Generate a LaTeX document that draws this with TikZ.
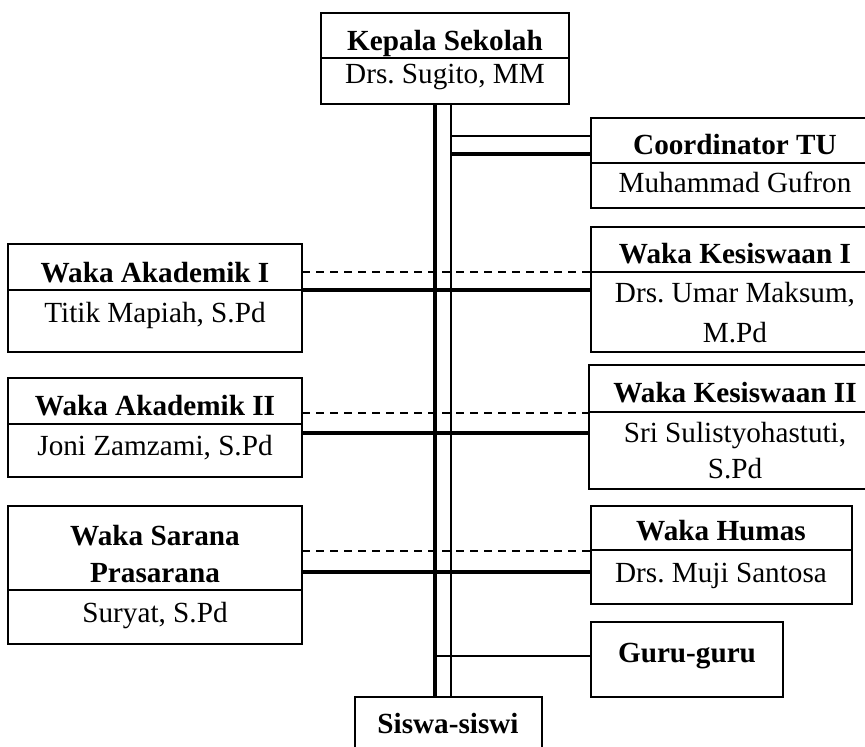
\documentclass[tikz,border=0pt]{standalone}
\usepackage{fontspec}
\setmainfont{Liberation Serif}
\frenchspacing
\begin{document}
\begin{tikzpicture}[x=1pt,y=-1pt,
  box/.style={draw,line width=2pt,rectangle,inner sep=0pt,outer sep=0pt,anchor=north west},
  divider/.style={line width=2pt},
  txt/.style={anchor=base,inner sep=0pt,font=\fontsize{29.2}{38}\selectfont},
  ttl/.style={anchor=base,inner sep=0pt,font=\fontsize{29.2}{38}\selectfont\bfseries},
  thickline/.style={line width=4pt},
  thinline/.style={line width=2pt},
  dashline/.style={line width=1.5pt,dash pattern=on 8pt off 6pt},
  hairline/.style={line width=1.3pt}]
\clip (0,0) rectangle (865,747);
\fill[white] (0,0) rectangle (865,747);
% boxes
\node[box,minimum width=248pt,minimum height=91pt] (kepala) at (321,13) {};
\node[box,minimum width=288pt,minimum height=90pt] (coord) at (591,118) {};
\node[box,minimum width=288pt,minimum height=125pt] (kes1) at (591,227) {};
\node[box,minimum width=290pt,minimum height=124pt] (kes2) at (589,365) {};
\node[box,minimum width=261pt,minimum height=98pt] (humas) at (591,506) {};
\node[box,minimum width=192pt,minimum height=75pt] (guru) at (591,622) {};
\node[box,minimum width=187pt,minimum height=80pt] (siswa) at (355,697) {};
\node[box,minimum width=294pt,minimum height=108pt] (ak1) at (8,244) {};
\node[box,minimum width=294pt,minimum height=99pt] (ak2) at (8,378) {};
\node[box,minimum width=294pt,minimum height=138pt] (sarana) at (8,506) {};
% dividers
\draw[divider] ([yshift=-45pt]kepala.north west) -- ([yshift=-45pt]kepala.north east);
\draw[divider] ([yshift=-45pt]coord.north west) -- ([yshift=-45pt]coord.north east);
\draw[divider] ([yshift=-45pt]kes1.north west) -- ([yshift=-45pt]kes1.north east);
\draw[divider] ([yshift=-47pt]kes2.north west) -- ([yshift=-47pt]kes2.north east);
\draw[divider] ([yshift=-44pt]humas.north west) -- ([yshift=-44pt]humas.north east);
\draw[divider] ([yshift=-46pt]ak1.north west) -- ([yshift=-46pt]ak1.north east);
\draw[divider] ([yshift=-46pt]ak2.north west) -- ([yshift=-46pt]ak2.north east);
\draw[divider] ([yshift=-84pt]sarana.north west) -- ([yshift=-84pt]sarana.north east);
% texts
\node[ttl] (t1) at (445,50) {Kepala Sekolah};
\node[txt] (n1) at (445,83) {Drs. Sugito, MM};
\node[ttl] (t2) at (735,154) {Coordinator TU};
\node[txt] (n2) at (735,192) {Muhammad Gufron};
\node[ttl] (t3) at (735,263) {Waka Kesiswaan I};
\node[txt] (n3a) at (735,302) {Drs. Umar Maksum,};
\node[txt] (n3b) at (735,342) {M.Pd};
\node[ttl] (t4) at (735,402) {Waka Kesiswaan II};
\node[txt] (n4a) at (735,442) {Sri Sulistyohastuti,};
\node[txt] (n4b) at (735,478) {S.Pd};
\node[ttl] (t5) at (721,540) {Waka Humas};
\node[txt] (n5) at (721,582) {Drs. Muji Santosa};
\node[ttl] (t6) at (687,662) {Guru-guru};
\node[ttl] (t7) at (448,733) {Siswa-siswi};
\node[ttl] (t8) at (155,282) {Waka Akademik I};
\node[txt] (n8) at (155,322) {Titik Mapiah, S.Pd};
\node[ttl] (t9) at (155,415) {Waka Akademik II};
\node[txt] (n9) at (155,455) {Joni Zamzami, S.Pd};
\node[ttl] (t10a) at (155,545) {Waka Sarana};
\node[ttl] (t10b) at (155,582) {Prasarana};
\node[txt] (n10) at (155,622) {Suryat, S.Pd};
% helper coordinates
\coordinate (vA) at (435,0);
\coordinate (vB) at (451,0);
\coordinate (hc1) at (0,136);
\coordinate (hc2) at (0,154);
\coordinate (d1) at (0,272);
\coordinate (k1) at (0,290);
\coordinate (d2) at (0,413);
\coordinate (k2) at (0,433);
\coordinate (d3) at (0,551);
\coordinate (k3) at (0,572);
\coordinate (hg) at (0,656);
% vertical trunks
\draw[thickline] (vA |- kepala.south) -- (vA |- siswa.north);
\draw[thinline] (vB |- kepala.south) -- (vB |- siswa.north);
% connectors
\draw[thinline] (vB |- hc1) -- (coord.west |- hc1);
\draw[thickline] (vB |- hc2) -- (coord.west |- hc2);
\draw[dashline] (ak1.east |- d1) -- (kes1.west |- d1);
\draw[thickline] (ak1.east |- k1) -- (kes1.west |- k1);
\draw[dashline] (ak2.east |- d2) -- (kes2.west |- d2);
\draw[thickline] (ak2.east |- k2) -- (kes2.west |- k2);
\draw[dashline] (sarana.east |- d3) -- (humas.west |- d3);
\draw[thickline] (sarana.east |- k3) -- (humas.west |- k3);
\draw[hairline] (vA |- hg) -- (guru.west |- hg);
\end{tikzpicture}
\end{document}
